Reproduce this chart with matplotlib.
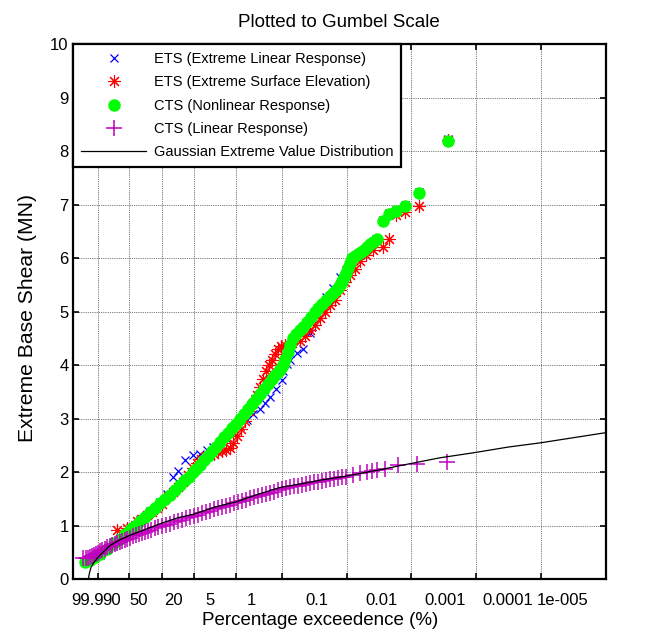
import numpy as np
import matplotlib as mpl
mpl.use("Agg")
import matplotlib.pyplot as plt
from matplotlib.transforms import ScaledTranslation

mpl.rcParams.update({
    "font.family": ["Liberation Sans", "DejaVu Sans"],
})

# x values are Gumbel reduced variates -ln(-ln(F))
ets_lin_x = [-1.851, -1.496, -1.141, -0.786, -0.431, -0.076, 0.279, 0.517, 0.752, 0.929,
             1.167, 1.462, 1.700, 1.948, 2.172, 2.410, 2.623, 2.882, 3.120, 3.358,
             3.582, 3.830, 4.008, 4.185, 4.399, 4.601, 4.658, 4.789, 4.896, 5.134,
             5.368, 5.606, 5.890, 6.174, 6.423, 6.671, 6.884, 7.098, 7.381, 7.665,
             7.950, 8.209, 8.422, 8.649, 8.980, 9.466, 10.496]
ets_lin_y = [0.45, 0.62, 0.78, 0.95, 1.10, 1.28, 1.45, 1.60, 1.91, 2.02,
             2.22, 2.32, 2.35, 2.42, 2.47, 2.56, 2.64, 2.74, 2.86, 2.97,
             3.08, 3.19, 3.30, 3.41, 3.56, 3.72, 3.90, 4.02, 4.09, 4.22,
             4.31, 4.60, 5.05, 5.28, 5.45, 5.65, 5.78, 5.98, 6.05, 6.20,
             6.35, 6.72, 6.85, 6.90, 7.00, 7.24, 8.23]

ets_surf_x = [-1.258, -0.903, -0.537, -0.360, -0.182, -0.005, 0.173, 0.350, 0.563, 0.741,
              0.918, 1.096, 1.274, 1.451, 1.593, 1.735, 1.913, 2.055, 2.197, 2.339,
              2.481, 2.623, 2.765, 2.872, 3.014, 3.156, 3.298, 3.440, 3.582, 3.724,
              3.830, 3.937, 4.043, 4.150, 4.257, 4.363, 4.470, 4.576, 4.718, 4.967,
              5.251, 5.428, 5.606, 5.784, 5.961, 6.139, 6.316, 6.494, 6.671, 6.849,
              7.026, 7.204, 7.381, 7.594, 7.843, 8.209, 8.422, 8.649, 8.980, 9.466,
              10.496]
ets_surf_y = [0.93, 0.96, 1.08, 1.13, 1.20, 1.26, 1.33, 1.40, 1.55, 1.64,
              1.72, 1.82, 1.95, 2.08, 2.17, 2.24, 2.30, 2.32, 2.35, 2.38,
              2.40, 2.42, 2.46, 2.55, 2.68, 2.80, 2.95, 3.15, 3.30, 3.45,
              3.60, 3.75, 3.90, 4.00, 4.10, 4.20, 4.30, 4.36, 4.38, 4.42,
              4.45, 4.55, 4.65, 4.75, 4.88, 5.00, 5.12, 5.22, 5.40, 5.55,
              5.68, 5.80, 5.95, 6.05, 6.15, 6.20, 6.36, 6.80, 6.86, 6.98,
              8.20]

cts_nl_x = [-2.384, -2.207, -2.029, -1.851, -1.603, -1.354, -1.141, -0.964, -0.786, -0.697,
            -0.608, -0.430, -0.253, -0.075, 0.102, 0.280, 0.457, 0.635, 0.812, 0.990,
            1.167, 1.309, 1.451, 1.576, 1.700, 1.842, 1.984, 2.126, 2.268, 2.410,
            2.552, 2.694, 2.836, 2.978, 3.120, 3.262, 3.404, 3.546, 3.688, 3.830,
            3.972, 4.114, 4.256, 4.380, 4.505, 4.576, 4.647, 4.736, 4.825, 4.914,
            5.002, 5.126, 5.251, 5.376, 5.500, 5.642, 5.784, 5.908, 6.032, 6.174,
            6.316, 6.423, 6.529, 6.600, 6.671, 6.742, 6.813, 6.885, 6.956, 7.027,
            7.098, 7.204, 7.311, 7.418, 7.524, 7.630, 7.737, 7.861, 7.985, 8.209,
            8.422, 8.649, 8.980, 9.466, 10.496]
cts_nl_y = [0.32, 0.36, 0.42, 0.48, 0.57, 0.67, 0.76, 0.84, 0.92, 0.96,
            1.00, 1.08, 1.16, 1.25, 1.33, 1.42, 1.50, 1.58, 1.67, 1.76,
            1.85, 1.92, 2.00, 2.07, 2.14, 2.22, 2.31, 2.40, 2.48, 2.56,
            2.65, 2.74, 2.82, 2.91, 3.00, 3.09, 3.18, 3.28, 3.37, 3.47,
            3.56, 3.65, 3.74, 3.82, 3.90, 3.95, 4.00, 4.12, 4.25, 4.38,
            4.50, 4.58, 4.65, 4.72, 4.80, 4.90, 5.00, 5.07, 5.14, 5.22,
            5.30, 5.35, 5.40, 5.45, 5.50, 5.57, 5.65, 5.73, 5.82, 5.91,
            6.00, 6.04, 6.08, 6.12, 6.16, 6.21, 6.26, 6.31, 6.36, 6.69,
            6.83, 6.88, 6.97, 7.21, 8.19]

cts_lin_x = [-2.444, -2.361, -2.278, -2.207, -2.136, -2.065, -1.993, -1.922, -1.851, -1.763,
             -1.674, -1.585, -1.496, -1.408, -1.319, -1.230, -1.141, -1.053, -0.964, -0.875,
             -0.786, -0.680, -0.573, -0.467, -0.360, -0.254, -0.147, -0.023, 0.102, 0.226,
             0.350, 0.492, 0.634, 0.776, 0.918, 1.061, 1.203, 1.345, 1.487, 1.629,
             1.771, 1.913, 2.055, 2.197, 2.339, 2.481, 2.623, 2.765, 2.907, 3.049,
             3.191, 3.333, 3.475, 3.617, 3.759, 3.901, 4.043, 4.186, 4.328, 4.470,
             4.612, 4.754, 4.896, 5.038, 5.180, 5.322, 5.464, 5.606, 5.748, 5.890,
             6.032, 6.174, 6.316, 6.458, 6.600, 6.742, 6.884, 7.133, 7.381, 7.630,
             7.808, 7.975, 8.269, 8.742, 9.395, 10.460]
cts_lin_y = [0.40, 0.40, 0.40, 0.42, 0.44, 0.46, 0.48, 0.50, 0.52, 0.545,
             0.57, 0.595, 0.62, 0.64, 0.66, 0.68, 0.70, 0.72, 0.74, 0.76,
             0.78, 0.80, 0.82, 0.84, 0.86, 0.88, 0.90, 0.925, 0.95, 0.97,
             0.99, 1.015, 1.04, 1.065, 1.09, 1.115, 1.14, 1.16, 1.18, 1.205,
             1.23, 1.255, 1.28, 1.305, 1.33, 1.35, 1.37, 1.395, 1.42, 1.445,
             1.47, 1.49, 1.51, 1.535, 1.56, 1.58, 1.60, 1.62, 1.64, 1.66,
             1.68, 1.70, 1.72, 1.735, 1.75, 1.765, 1.78, 1.795, 1.81, 1.825,
             1.84, 1.855, 1.87, 1.88, 1.89, 1.905, 1.92, 1.95, 1.98, 2.01,
             2.03, 2.04, 2.07, 2.13, 2.16, 2.19]

gauss_x = [-2.267, -2.224, -2.171, -2.089, -1.969, -1.851, -1.674, -1.496, -1.141, -0.786,
           -0.253, 0.340, 0.918, 1.497, 2.232, 3.003, 3.830, 4.576, 5.251, 5.961,
           6.909, 8.021, 9.157, 10.222, 11.490, 12.637, 13.798, 15.016, 16.117]
gauss_y = [0.0, 0.12, 0.22, 0.30, 0.38, 0.45, 0.54, 0.63, 0.74, 0.82,
           0.93, 1.05, 1.15, 1.22, 1.35, 1.45, 1.60, 1.72, 1.78, 1.85,
           1.93, 2.04, 2.16, 2.27, 2.37, 2.47, 2.55, 2.65, 2.74]

tick_pct = [99.9, 90, 50, 20, 5, 1, 0.1, 0.01, 0.001, 0.0001, 1e-5]
tick_txt = ['99.9', '90', '50', '20', '5', '1', '0.1', '0.01', '0.001', '0.0001', '1e-005']
# the exported labels sit left of their ticks, shift in pixels
tick_shift = [-10, -17, -24, -21, -26, -30, -30, -30, -31, -33, -43]


def gumbel(pct):
    p = np.asarray(pct, dtype=float) / 100.0
    return -np.log(-np.log1p(-p))


fig = plt.figure(figsize=(6.53, 6.38), dpi=100)
ax = fig.add_axes([0.1113, 0.092, 0.8167, 0.839])

ax.plot(ets_lin_x, ets_lin_y, 'x', color='#0000ff', ms=5.5, mew=0.9,
        label='ETS (Extreme Linear Response)')
ax.plot(ets_surf_x, ets_surf_y, ls='none', marker=(8, 2, 0), color='#ff0000', ms=9, mew=0.8,
        label='ETS (Extreme Surface Elevation)')
ax.plot(cts_nl_x, cts_nl_y, 'o', color='#00ff00', mec='none', ms=9,
        label='CTS (Nonlinear Response)')
ax.plot(cts_lin_x, cts_lin_y, '+', color='#bf00bf', ms=11, mew=1.1,
        label='CTS (Linear Response)')
ax.plot(gauss_x, gauss_y, '-', color='k', lw=0.9,
        label='Gaussian Extreme Value Distribution')

ax.set_xlim(-2.821, gumbel(1e-5))
ax.set_ylim(0, 10)
ax.set_xticks(gumbel(tick_pct))
ax.set_xticklabels(tick_txt)
ax.set_yticks(np.arange(0, 11, 1))

ax.grid(True, color='0.3', linestyle=(0, (1, 1.2)), linewidth=0.6)
ax.tick_params(which='both', direction='in', top=True, right=True,
               length=4, width=1.2, labelsize=12)
ax.tick_params(axis='x', pad=10)
ax.tick_params(axis='y', pad=3)
for s in ax.spines.values():
    s.set_linewidth(1.6)

for lab, dx in zip(ax.get_xticklabels(), tick_shift):
    lab.set_transform(lab.get_transform() + ScaledTranslation(dx / 100.0, 0, fig.dpi_scale_trans))

ax.set_title('Plotted to Gumbel Scale', fontsize=13.5, pad=12)
ax.set_xlabel('Percentage exceedence (%)', fontsize=13.5)
ax.set_ylabel('Extreme Base Shear (MN)', fontsize=15.2)
ax.xaxis.set_label_coords(0.464, -0.062)
ax.yaxis.set_label_coords(-0.067, 0.489)

leg = ax.legend(loc='upper left', bbox_to_anchor=(0, 1), borderaxespad=0, fontsize=10.5,
                handlelength=4.5, handletextpad=0.5, borderpad=0.55, labelspacing=0.64,
                fancybox=False, framealpha=1, edgecolor='k', numpoints=1)
leg.get_frame().set_linewidth(1.6)

fig.savefig('out.png', dpi=100)
